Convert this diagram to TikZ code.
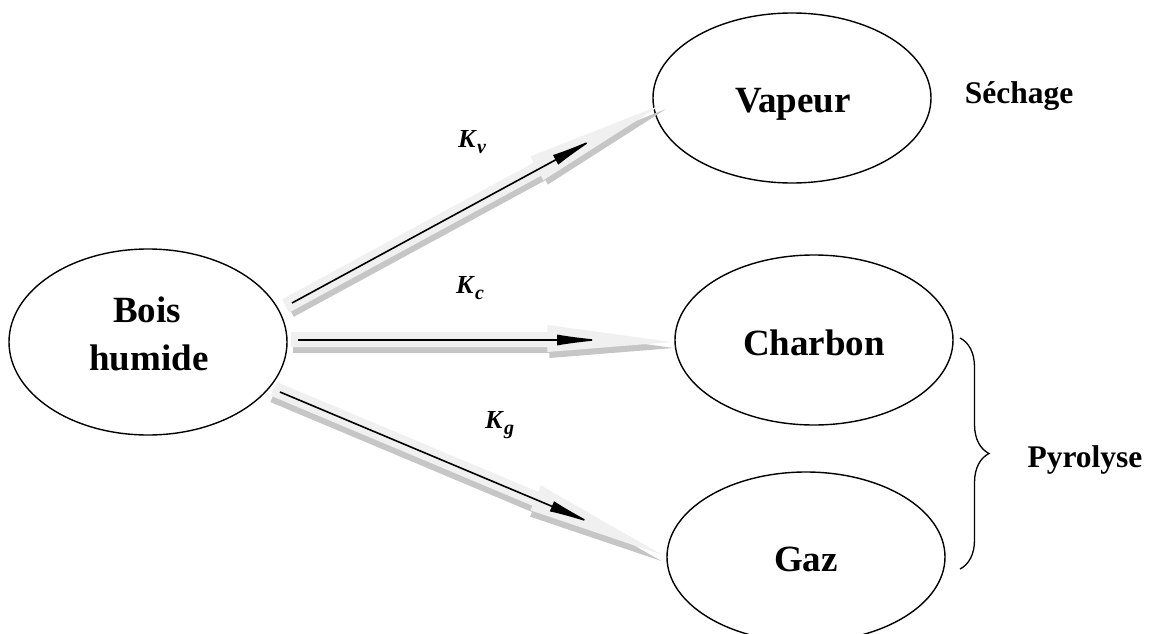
\documentclass[tikz,border=0pt]{standalone}
\usepackage{fontspec}
\setmainfont{Liberation Serif}
\usetikzlibrary{shapes.geometric,arrows.meta,decorations.pathreplacing}
\newcommand\tdarrow[4]{% #1 start coordinate, #2 angle, #3 total length, #4 black line length
  \begin{scope}[shift={(#1)}, rotate=#2]
    \pgfmathsetmacro\hs{0.667*#3}
    \fill[sidewall, shift={(2,6)}] (-7,-8) -- (\hs,-8) -- (\hs,-15) -- (#3,2) -- (\hs,12) -- (\hs,7) -- (-7,7) -- cycle;
    \fill[topface] (-7,-8) -- (\hs,-8) -- (\hs,-15) -- (#3,2) -- (\hs,12) -- (\hs,7) -- (-7,7) -- cycle;
    \coordinate (#1-e) at (#4,0);
    \draw[coreline] (#1) -- (#1-e);
  \end{scope}}
\newcommand\krate[1]{K\kern1.5pt\raisebox{-6pt}{\fontsize{20}{20}\selectfont #1}}
\begin{document}
\begin{tikzpicture}[x=1pt,y=-1pt,
  ell/.style={draw, ellipse, line width=1.4pt, minimum width=278pt, minimum height=170pt, inner sep=0pt},
  lbl/.style={font=\fontsize{37}{44}\selectfont\bfseries, anchor=base, inner sep=0pt},
  side/.style={font=\fontsize{31.5}{38}\selectfont\bfseries, anchor=base, inner sep=0pt},
  klbl/.style={font=\fontsize{26}{30}\selectfont\bfseries\itshape, anchor=base west, inner sep=0pt},
  topface/.style={fill=gray!12},
  sidewall/.style={fill=gray!45},
  coreline/.style={line width=1.6pt, -{Latex[length=45pt,width=11pt]}}]
\useasboundingbox (0,0) rectangle (1154,634);

% ellipses
\node[ell, minimum height=186pt] (bois) at (148,342) {};
\node[ell] (vapeur) at (792,98) {};
\node[ell] (charbon) at (814,340) {};
\node[ell] (gaz) at (806,557) {};

% labels in ellipses
\node[lbl] (t-bois) at (147,322) {Bois};
\node[lbl] (t-humide) at (149,370) {humide};
\node[lbl] (t-vapeur) at (793,112) {Vapeur};
\node[lbl] (t-charbon) at (814,355) {Charbon};
\node[lbl] (t-gaz) at (806,571) {Gaz};

% arrows
\coordinate (kv) at (292,303);
\coordinate (kc) at (298,340);
\coordinate (kg) at (280,392);
\tdarrow{kv}{28.5}{419}{345}
\tdarrow{kc}{0}{374}{304}
\tdarrow{kg}{-22.8}{415}{340}

% rate labels
\node[klbl] (l-kv) at (458,147) {\krate{v}};
\node[klbl] (l-kc) at (456,293) {\krate{c}};
\node[klbl] (l-kg) at (485,428) {\krate{g}};

% side labels
\node[side] (sechage) at (1019,103) {Séchage};
\node[side] (pyrolyse) at (1085,467) {Pyrolyse};

% brace
\coordinate (br-top) at (960,338);
\coordinate (br-bot) at (960,569);
\draw[line width=1.3pt, decorate, decoration={brace, amplitude=29pt}] (br-top) -- (br-bot);
\end{tikzpicture}
\end{document}
